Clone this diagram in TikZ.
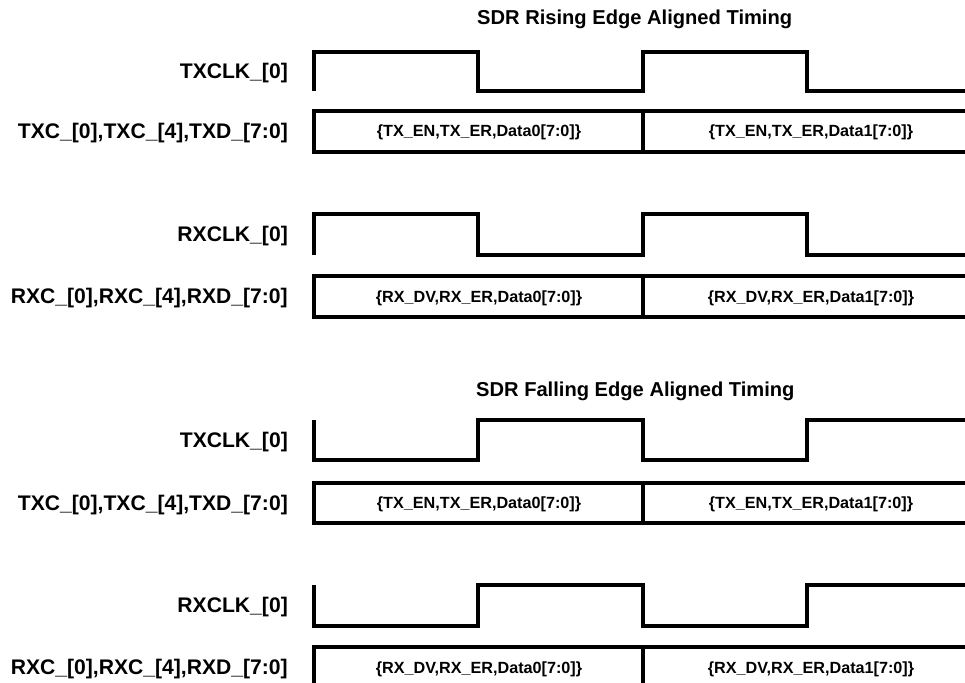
\documentclass[tikz,border=0pt]{standalone}
\usepackage{fontspec}
\setmainfont{Liberation Sans}
\begin{document}
\begin{tikzpicture}[x=1bp,y=-1bp,
  wave/.style={line width=3.4bp, line join=miter, line cap=butt},
  siglabel/.style={anchor=base east, font=\fontsize{21.2}{25}\selectfont\bfseries, inner sep=0pt},
  bustext/.style={anchor=base, font=\fontsize{16.25}{19}\selectfont\bfseries, inner sep=0pt},
  titletext/.style={anchor=base west, font=\fontsize{20.2}{24}\selectfont\bfseries, inner sep=0pt}]
\clip (0,0) rectangle (965,683);
% titles
\node[titletext] (t1) at (477,25) {SDR Rising Edge Aligned Timing};
\node[titletext] (t2) at (476,396) {SDR Falling Edge Aligned Timing};
% labels
\node[siglabel] (l1) at (288,78.5) {TXCLK\_[0]};
\node[siglabel] (l2) at (288,138.5) {TXC\_[0],TXC\_[4],TXD\_[7:0]};
\node[siglabel] (l3) at (288,241.5) {RXCLK\_[0]};
\node[siglabel] (l4) at (288,303.5) {RXC\_[0],RXC\_[4],RXD\_[7:0]};
\node[siglabel] (l5) at (288,447) {TXCLK\_[0]};
\node[siglabel] (l6) at (288,510) {TXC\_[0],TXC\_[4],TXD\_[7:0]};
\node[siglabel] (l7) at (288,612.5) {RXCLK\_[0]};
\node[siglabel] (l8) at (288,674.5) {RXC\_[0],RXC\_[4],RXD\_[7:0]};
% row 1
\draw[wave] (314,91) -- (314,52) -- (478,52) -- (478,91) -- (643,91) -- (643,52) -- (807,52) -- (807,91) -- (968,91);
\draw[wave] (968,111) -- (314,111) -- (314,152) -- (968,152);
\draw[wave] (643,111) -- (643,152);
\node[bustext] (b1a) at (479,137) {\{TX\_EN,TX\_ER,Data0[7:0]\}};
\node[bustext] (b1b) at (811,137) {\{TX\_EN,TX\_ER,Data1[7:0]\}};
% row 2
\draw[wave] (314,255) -- (314,214) -- (478,214) -- (478,255) -- (643,255) -- (643,214) -- (807,214) -- (807,255) -- (968,255);
\draw[wave] (968,276) -- (314,276) -- (314,317) -- (968,317);
\draw[wave] (643,276) -- (643,317);
\node[bustext] (b2a) at (479,302) {\{RX\_DV,RX\_ER,Data0[7:0]\}};
\node[bustext] (b2b) at (811,302) {\{RX\_DV,RX\_ER,Data1[7:0]\}};
% row 3
\draw[wave] (314,420) -- (314,460) -- (478,460) -- (478,420) -- (643,420) -- (643,460) -- (807,460) -- (807,420) -- (968,420);
\draw[wave] (968,483) -- (314,483) -- (314,523) -- (968,523);
\draw[wave] (643,483) -- (643,523);
\node[bustext] (b3a) at (479,508.7) {\{TX\_EN,TX\_ER,Data0[7:0]\}};
\node[bustext] (b3b) at (811,508.7) {\{TX\_EN,TX\_ER,Data1[7:0]\}};
% row 4
\draw[wave] (314,585) -- (314,626) -- (478,626) -- (478,585) -- (643,585) -- (643,626) -- (807,626) -- (807,585) -- (968,585);
\draw[wave] (968,647) -- (314,647) -- (314,692);
\draw[wave] (643,647) -- (643,692);
\node[bustext] (b4a) at (479,673) {\{RX\_DV,RX\_ER,Data0[7:0]\}};
\node[bustext] (b4b) at (811,673) {\{RX\_DV,RX\_ER,Data1[7:0]\}};
\end{tikzpicture}
\end{document}
